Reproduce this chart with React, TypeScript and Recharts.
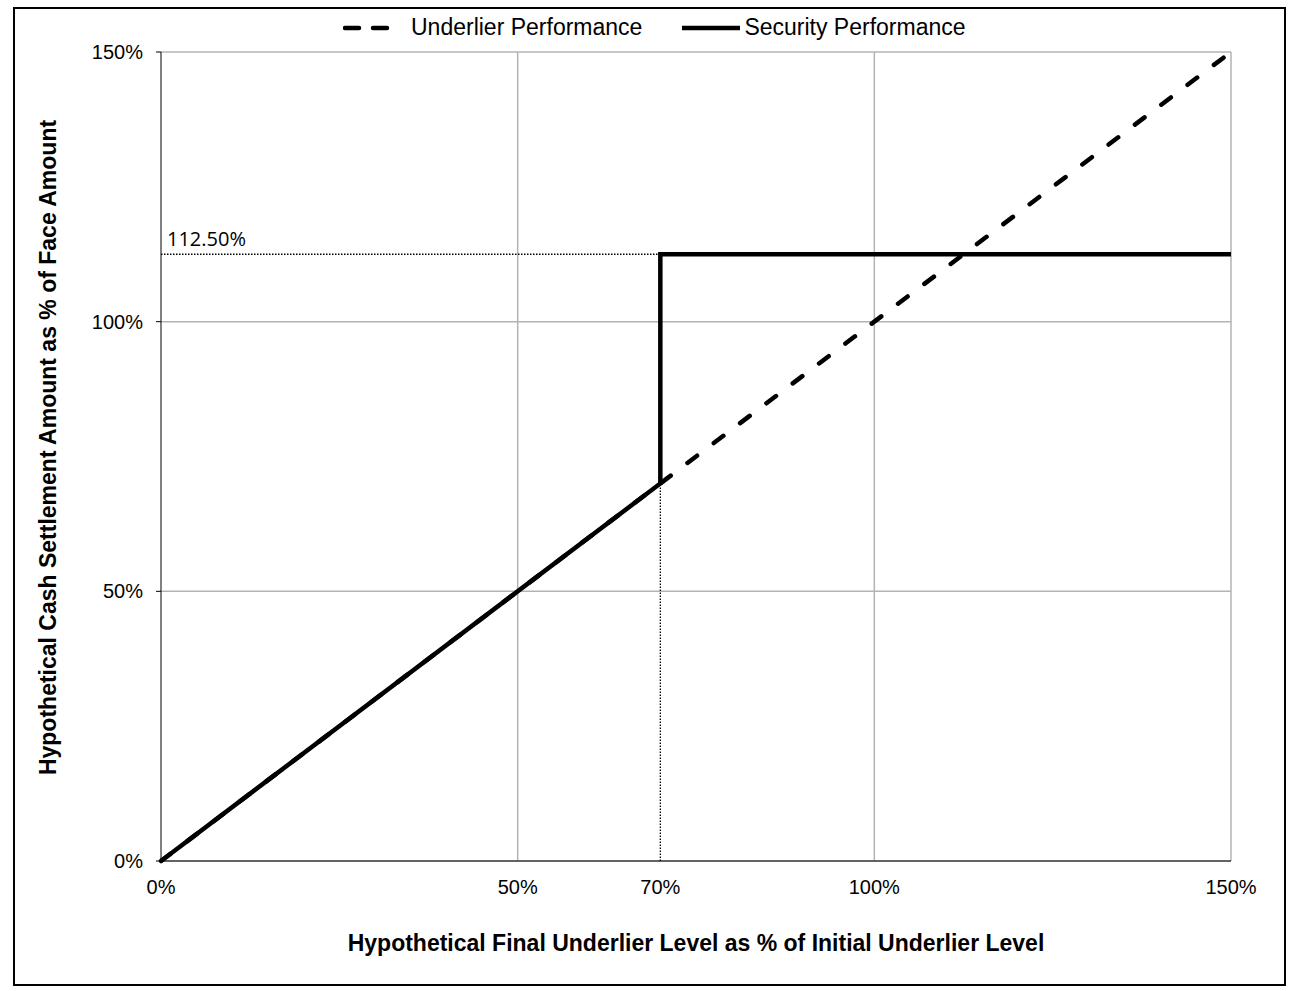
import React from "react";
import {
  LineChart,
  Line,
  XAxis,
  YAxis,
  CartesianGrid,
  ReferenceLine,
} from "recharts";

const xTicks = [0, 50, 70, 100, 150];
const yTicks = [0, 50, 100, 150];
const gridX = [50, 100, 150];

const underlierX = [0, 150];
const underlierY = [0, 150];

const securityX = [0, 70, 70, 150];
const securityY = [0, 70, 112.5, 112.5];

const capLevel = 112.5;
const barrierLevel = 70;
const capLabel = "112.50%";

const underlierData = underlierX.map((x, i) => ({ x, y: underlierY[i] }));
const securityData = securityX.map((x, i) => ({ x, y: securityY[i] }));

const FONT = "'Liberation Sans', Arial, sans-serif";

export default function App() {
  return (
    <div
      style={{
        position: "absolute",
        left: 13,
        top: 7,
        width: 1273,
        height: 979,
        boxSizing: "border-box",
        border: "2px solid #000",
        background: "#fff",
        fontFamily: FONT,
      }}
    >
      <div
        style={{
          position: "absolute",
          left: 328,
          top: 5,
          display: "flex",
          alignItems: "center",
          fontSize: 23,
          color: "#000",
          whiteSpace: "nowrap",
        }}
      >
        <svg width={50} height={10} style={{ marginRight: 18 }}>
          <line x1={2} y1={5} x2={48} y2={5} stroke="#000" strokeWidth={4.5} strokeDasharray="14 14" strokeLinecap="round" />
        </svg>
        <span>Underlier Performance</span>
        <svg width={58} height={10} style={{ marginLeft: 40, marginRight: 4 }}>
          <line x1={0} y1={5} x2={58} y2={5} stroke="#000" strokeWidth={4.5} />
        </svg>
        <span>Security Performance</span>
      </div>
      <div style={{ position: "absolute", left: -2, top: -2 }}>
        <LineChart
          width={1273}
          height={979}
          margin={{ top: 45, right: 55, bottom: 86, left: 88 }}
        >
          <CartesianGrid
            vertical={false}
            stroke="#b3b3b3"
            strokeWidth={1.5}
          />
          {gridX.map((gx) => (
            <ReferenceLine key={gx} x={gx} stroke="#b3b3b3" strokeWidth={1.5} />
          ))}
          <XAxis
            type="number"
            dataKey="x"
            domain={[0, 150]}
            ticks={xTicks}
            tickFormatter={(v) => `${v}%`}
            axisLine={{ stroke: "#000", strokeWidth: 1 }}
            tickLine={false}
            tickSize={4}
            tickMargin={15}
            height={39}
            tick={{ fill: "#000", fontSize: 20, fontFamily: FONT }}
            allowDuplicatedCategory={false}
            label={(props: any) => {
              const vb = props.viewBox;
              return (
                <text
                  x={vb.x + vb.width / 2}
                  y={vb.y + 90}
                  textAnchor="middle"
                  fontSize={23}
                  fontWeight="bold"
                  fontFamily={FONT}
                  fill="#000"
                >
                  Hypothetical Final Underlier Level as % of Initial Underlier Level
                </text>
              );
            }}
          />
          <YAxis
            type="number"
            domain={[0, 150]}
            ticks={yTicks}
            tickFormatter={(v) => `${v}%`}
            axisLine={{ stroke: "#000", strokeWidth: 1 }}
            tickLine={{ stroke: "#000" }}
            tickSize={5}
            tickMargin={13}
            width={60}
            tick={{ fill: "#000", fontSize: 20, fontFamily: FONT }}
            label={(props: any) => {
              const vb = props.viewBox;
              const cx = 35;
              const cy = vb.y + vb.height / 2 - 9;
              return (
                <text
                  x={cx}
                  y={cy}
                  transform={`rotate(-90 ${cx} ${cy})`}
                  textAnchor="middle"
                  dominantBaseline="central"
                  fontSize={23}
                  fontWeight="bold"
                  fontFamily={FONT}
                  fill="#000"
                >
                  Hypothetical Cash Settlement Amount as % of Face Amount
                </text>
              );
            }}
          />
          <ReferenceLine
            segment={[
              { x: 0, y: capLevel },
              { x: barrierLevel, y: capLevel },
            ]}
            stroke="#000"
            strokeWidth={1.3}
            strokeDasharray="1.5 1.5"
            label={(props: any) => {
              const vb = props.viewBox;
              return (
                <text
                  x={vb.x + 6}
                  y={vb.y - 8}
                  fontSize={20}
                  fontFamily="'Open Sans', 'Noto Sans', sans-serif"
                  fill="#000"
                >
                  {capLabel}
                </text>
              );
            }}
          />
          <ReferenceLine
            segment={[
              { x: barrierLevel, y: 0 },
              { x: barrierLevel, y: barrierLevel },
            ]}
            stroke="#000"
            strokeWidth={1.3}
            strokeDasharray="1.5 1.5"
          />
          <Line
            data={underlierData}
            dataKey="y"
            type="linear"
            stroke="#000"
            strokeWidth={4.5}
            strokeDasharray="12 21"
            strokeLinecap="round"
            dot={false}
            activeDot={false}
            isAnimationActive={false}
          />
          <Line
            data={securityData}
            dataKey="y"
            type="linear"
            stroke="#000"
            strokeWidth={4.5}
            dot={false}
            activeDot={false}
            isAnimationActive={false}
          />
        </LineChart>
      </div>
    </div>
  );
}
